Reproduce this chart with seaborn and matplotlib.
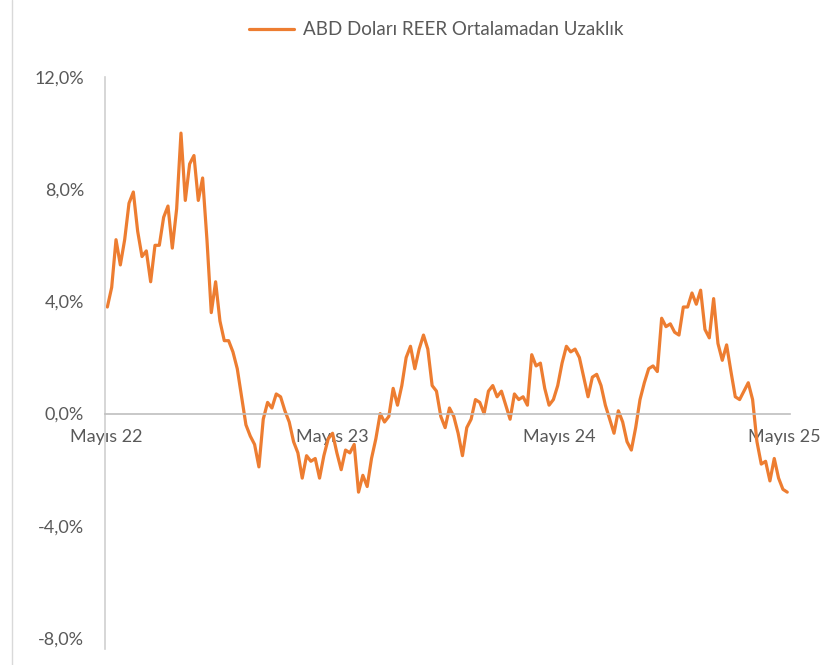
import pandas as pd
import matplotlib.pyplot as plt
from matplotlib.ticker import FuncFormatter
import seaborn as sns

# Haftalık seri (Mayıs 2022 - Mayıs 2025) (%)
baslangic = "2022-05-02"
uzaklik = [
    3.8, 4.5, 6.2, 5.3, 6.2, 7.5, 7.9, 6.5, 5.6, 5.8,
    4.7, 6.0, 6.0, 7.0, 7.4, 5.9, 7.3, 10.0, 7.6, 8.9,
    9.2, 7.6, 8.4, 6.2, 3.6, 4.7, 3.3, 2.6, 2.6, 2.2,
    1.6, 0.6, -0.4, -0.8, -1.1, -1.9, -0.2, 0.4, 0.2, 0.7,
    0.6, 0.1, -0.3, -1.0, -1.4, -2.3, -1.5, -1.7, -1.6, -2.3,
    -1.5, -0.9, -0.7, -1.4, -2.0, -1.3, -1.4, -1.1, -2.8, -2.2,
    -2.6, -1.6, -0.9, 0.0, -0.3, -0.1, 0.9, 0.3, 1.0, 2.0,
    2.4, 1.6, 2.3, 2.8, 2.3, 1.0, 0.8, -0.1, -0.5, 0.2,
    -0.1, -0.7, -1.5, -0.5, -0.2, 0.5, 0.4, 0.0, 0.8, 1.0,
    0.6, 0.8, 0.3, -0.2, 0.7, 0.5, 0.6, 0.3, 2.1, 1.7,
    1.8, 0.9, 0.3, 0.5, 1.0, 1.8, 2.4, 2.2, 2.3, 2.0,
    1.3, 0.6, 1.3, 1.4, 1.0, 0.3, -0.2, -0.7, 0.1, -0.3,
    -1.0, -1.3, -0.5, 0.5, 1.1, 1.6, 1.7, 1.5, 3.4, 3.1,
    3.2, 2.9, 2.8, 3.8, 3.8, 4.3, 3.9, 4.4, 3.0, 2.7,
    4.1, 2.5, 1.9, 2.45, 1.5, 0.6, 0.5, 0.8, 1.1, 0.5,
    -1.0, -1.8, -1.7, -2.4, -1.6, -2.3, -2.7, -2.8,
]
tarih_etiketleri = ["2022-05-01", "2023-05-01", "2024-05-01", "2025-05-01"]
etiketler = ["Mayıs 22", "Mayıs 23", "Mayıs 24", "Mayıs 25"]
y_ticks = [-8, -4, 0, 4, 8, 12]

df = pd.DataFrame({
    "Tarih": pd.date_range(baslangic, periods=len(uzaklik), freq="7D"),
    "Deger": uzaklik,
})

sns.set_style("white")
plt.rcParams["font.family"] = ["Lato", "DejaVu Sans"]

fig = plt.figure(figsize=(8.39, 6.65), dpi=100)
ax = fig.add_axes([0.125, 0.0406, 0.817, 0.8436])

sns.lineplot(data=df, x="Tarih", y="Deger", color="#ED7D31", linewidth=2.3,
             label="ABD Doları REER Ortalamadan Uzaklık", ax=ax, legend=False)

ax.set_ylim(-8, 12)
ax.set_yticks(y_ticks)
ax.yaxis.set_major_formatter(FuncFormatter(lambda v, p: f"{v:.1f}%".replace(".", ",")))
ax.set_xlim(pd.Timestamp("2022-04-28"), pd.Timestamp("2025-05-10"))
ax.set_xticks(pd.to_datetime(tarih_etiketleri))
ax.set_xticklabels(etiketler)

ax.set_xlabel("")
ax.set_ylabel("")
for s in ["top", "right"]:
    ax.spines[s].set_visible(False)
ax.spines["bottom"].set_position(("data", 0))
ax.spines["bottom"].set_color("#BFBFBF")
ax.spines["left"].set_color("#D0D0D0")
ax.spines["bottom"].set_linewidth(1.2)
ax.spines["left"].set_linewidth(1.2)
ax.spines["left"].set_bounds(-8.4, 12)
ax.tick_params(axis="both", length=0, labelsize=13, labelcolor="#595959")
ax.tick_params(axis="y", pad=15)
ax.tick_params(axis="x", pad=11)
ax.set_zorder(1)
ax.patch.set_alpha(0)

h, l = ax.get_legend_handles_labels()
fig.legend(h, l, loc="center", bbox_to_anchor=(0.52, 0.955), frameon=False,
           fontsize=13.5, labelcolor="#595959", handlelength=2.4, handletextpad=0.5)

# ekran görüntüsündeki ince kenar çizgisi
fig.add_artist(plt.Line2D([0.0143, 0.0143], [0.0, 1.0], color="#D9D9D9", linewidth=1.0))

plt.savefig("out.png", dpi=100)
